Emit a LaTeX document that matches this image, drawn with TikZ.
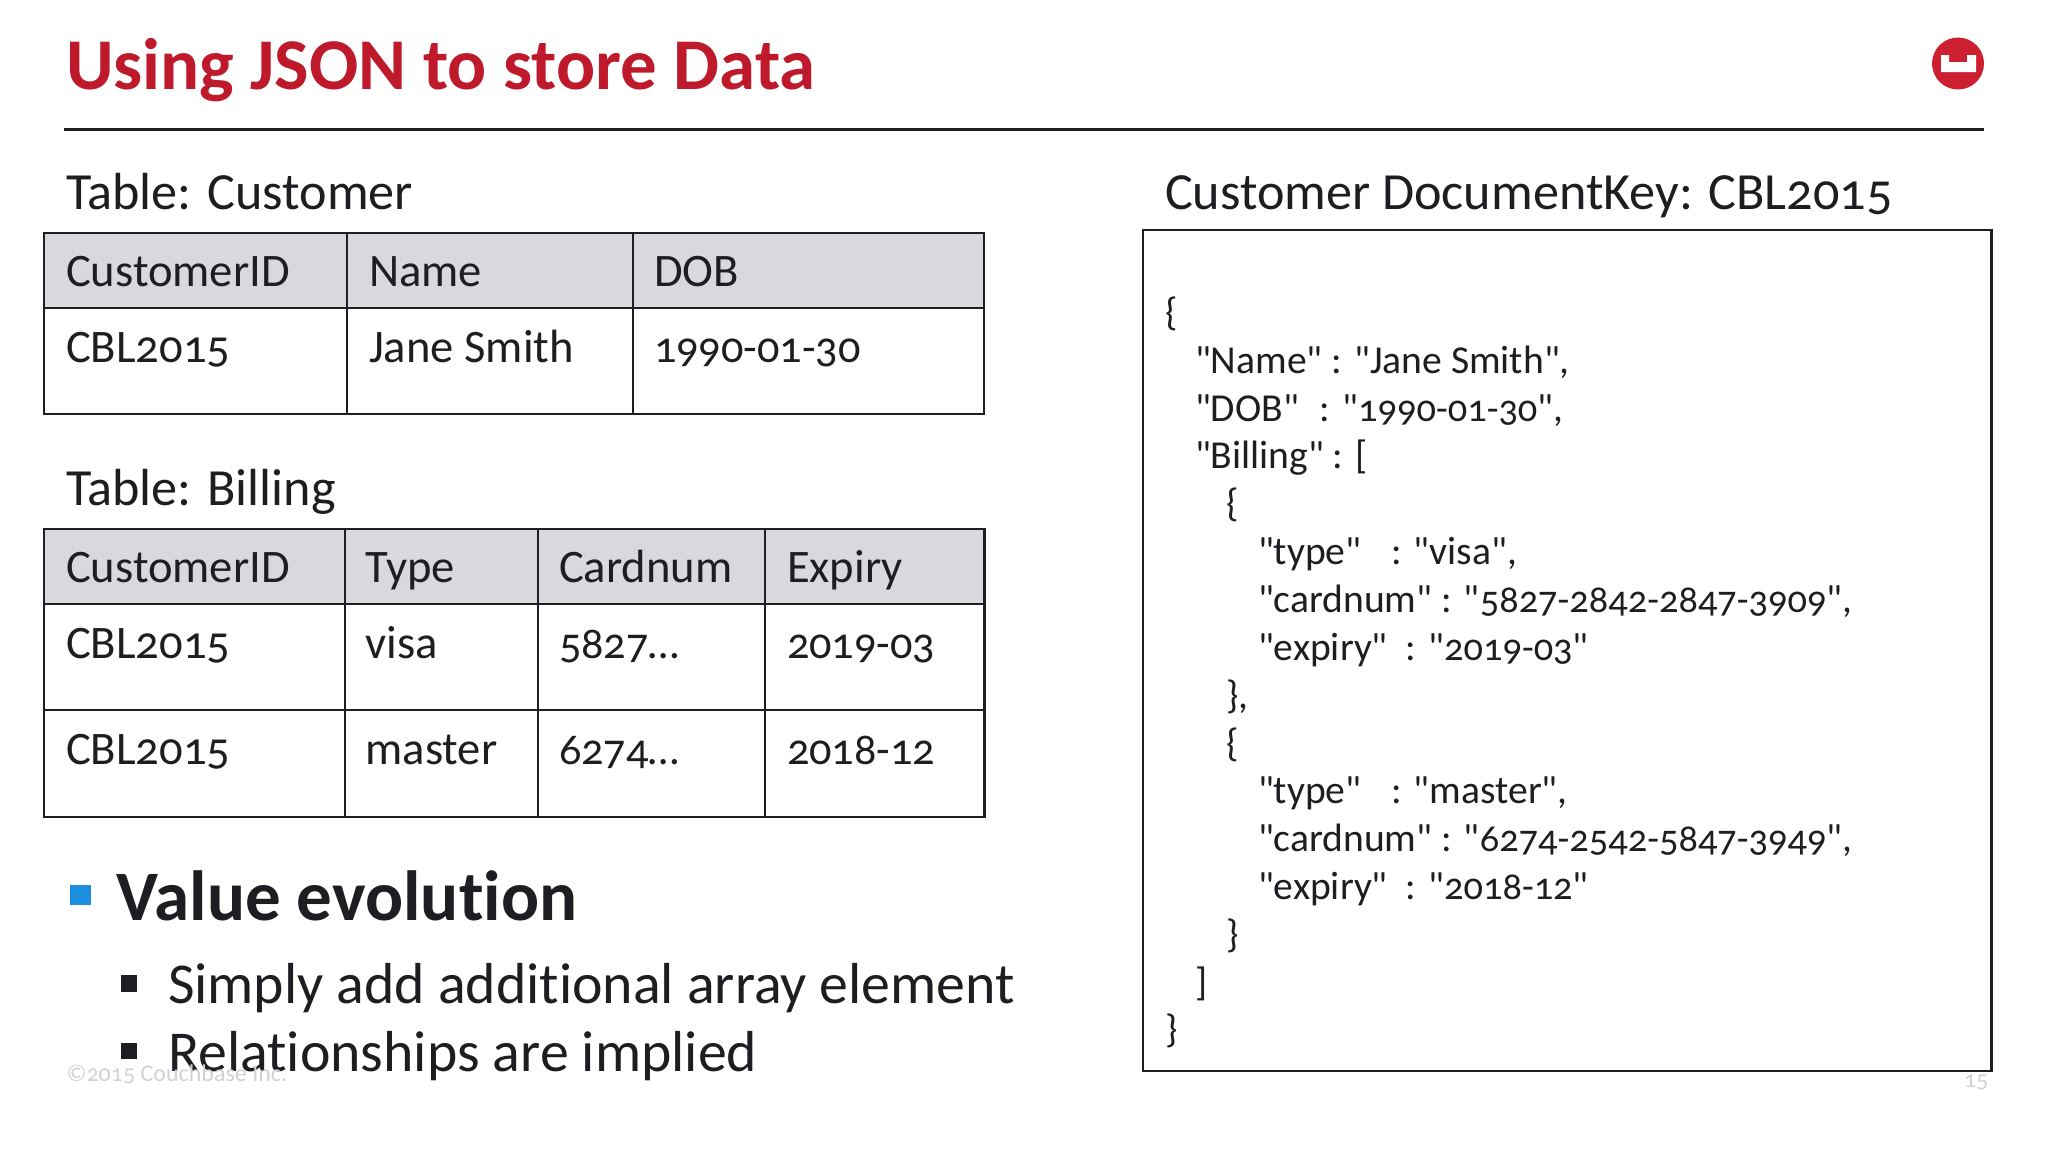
\documentclass[tikz,border=0pt]{standalone}
\usepackage{fontspec}
\setmainfont{Carlito}[Numbers=OldStyle,Ligatures=NoCommon]
\newfontfamily\plainfam{Carlito}[Numbers=OldStyle,Ligatures=NoCommon]
\definecolor{ttl}{HTML}{BE1A2B}
\definecolor{ink}{HTML}{1E1E22}
\definecolor{hdr}{HTML}{D9D8DC}
\definecolor{blu}{HTML}{1B8EE0}
\definecolor{foot}{HTML}{D2D2D4}
\definecolor{logo}{HTML}{CC2030}
\newcommand{\fs}[1]{\fontsize{#1}{#1}\selectfont}
\newcommand{\dg}[1]{{\fs{38.4}#1}}
\tikzset{
  txt/.style={anchor=base west,inner sep=0pt,outer sep=0pt,text=ink},
  title/.style={txt,text=ttl,font=\plainfam\fs{72.9}\bfseries},
  head/.style={txt,font=\plainfam\fs{52.2}},
  cell/.style={txt,font=\plainfam\fs{46.6}},
  numcell/.style={txt,font=\plainfam\fs{44.3}},
  lead/.style={txt,font=\plainfam\fs{71}\bfseries},
  sub/.style={txt,font=\plainfam\fs{57.8}},
  js/.style={txt,font=\plainfam\fs{39.6}},
  fnote/.style={txt,text=foot,font=\plainfam\fs{24}},
  grid/.style={draw=ink,line width=2.4pt},
  thin/.style={draw=ink,line width=2pt},
}
\begin{document}
\begin{tikzpicture}[x=1pt,y=-1pt]
\useasboundingbox (0,0) rectangle (2048,1152);
\fill[white] (0,0) rectangle (2048,1152);
\node[title] (ttitle) at (66,89) {Using JSON to store Data};
\draw[grid] (64,129.5) -- (1984,129.5);
\fill[logo] (1958,63.5) circle (26);
\fill[white] (1941,55) -- (1949,55) -- (1949,62) -- (1967,62) -- (1967,55) -- (1976,55) -- (1976,72) -- (1941,72) -- cycle;
% customer
\node[head] (lc) at (66,209) {Table: Customer};
\fill[hdr] (44,233) rectangle (984,308);
\draw[grid] (44,233) rectangle (984,414);
\draw[grid] (44,308) -- (984,308);
\draw[thin] (347,233) -- (347,414);
\draw[thin] (633,233) -- (633,414);
\node[cell] (c1) at (66,286.5) {CustomerID};
\node[cell] (c2) at (369,286.5) {Name};
\node[cell] (c3) at (654,286.5) {DOB};
\node[cell] (c4) at (66,362) {CBL2015};
\node[cell] (c5) at (369,362) {Jane Smith};
\node[numcell] (c6) at (654,362) {1990-01-30};
% billing
\node[head] (lb) at (66,505.5) {Table: Billing};
\fill[hdr] (44,529) rectangle (984.5,604);
\draw[grid] (44,529) rectangle (984.5,817);
\draw[grid] (44,604) -- (984.5,604);
\draw[grid] (44,710) -- (984.5,710);
\draw[thin] (344.5,529) -- (344.5,817);
\draw[thin] (537.5,529) -- (537.5,817);
\draw[thin] (765,529) -- (765,817);
\node[cell] (b1) at (66,582.5) {CustomerID};
\node[cell] (b2) at (365.5,582.5) {Type};
\node[cell] (b3) at (559,582.5) {Cardnum};
\node[cell] (b4) at (787,582.5) {Expiry};
\node[cell] (b5) at (66,658.5) {CBL2015};
\node[cell] (b6) at (365.5,658.5) {visa};
\node[numcell] (b7) at (559,658.5) {5827…};
\node[numcell] (b8) at (787,658.5) {2019-03};
\node[cell] (b9) at (66,764.5) {CBL2015};
\node[cell] (b10) at (365.5,764.5) {master};
\node[numcell] (b11) at (559,764.5) {6274…};
\node[numcell] (b12) at (787,764.5) {2018-12};
% bullets
\fill[blu] (70,885) rectangle (91,905);
\node[lead] (v) at (116.5,920) {Value evolution};
\fill[ink] (121,975) rectangle (137,991.5);
\node[sub] (s1) at (168,1003) {Simply add additional array element};
\fill[ink] (121,1043) rectangle (137,1059);
\node[sub] (s2) at (168,1071) {Relationships are implied};
\node[fnote] (fn) at (66.5,1081) {©2015 Couchbase Inc.};
\node[fnote] (pg) at (1964,1087) {15};
% json
\node[head] (lj) at (1165,209) {Customer DocumentKey: CBL2015};
\draw[grid] (1143,230) rectangle (1991.5,1071);
\node[js] (j1) at (1165,325) {\{};
\node[js] (j2) at (1195,373) {"Name" : "Jane Smith",};
\node[js] (j3) at (1195,421) {"DOB"\ \ \kern3pt: "\dg{1990-01-30}",};
\node[js] (j4) at (1195,468) {"Billing" : [};
\node[js] (j5) at (1226,516) {\{};
\node[js] (j6) at (1258,564) {"type"\ \ \ \kern3pt: "visa",};
\node[js] (j7) at (1258,612) {"cardnum" : "\dg{5827-2842-2847-3909}",};
\node[js] (j8) at (1258,660) {"expiry"\ \ : "\dg{2019-03}"};
\node[js] (j9) at (1226,708) {\},};
\node[js] (j10) at (1226,756) {\{};
\node[js] (j11) at (1258,803) {"type"\ \ \ \kern3pt: "master",};
\node[js] (j12) at (1258,851) {"cardnum" : "\dg{6274-2542-5847-3949}",};
\node[js] (j13) at (1258,899) {"expiry"\ \ : "\dg{2018-12}"};
\node[js] (j14) at (1226,947) {\}};
\node[js] (j15) at (1195,995) {]};
\node[js] (j16) at (1165,1042) {\}};
\end{tikzpicture}
\end{document}
